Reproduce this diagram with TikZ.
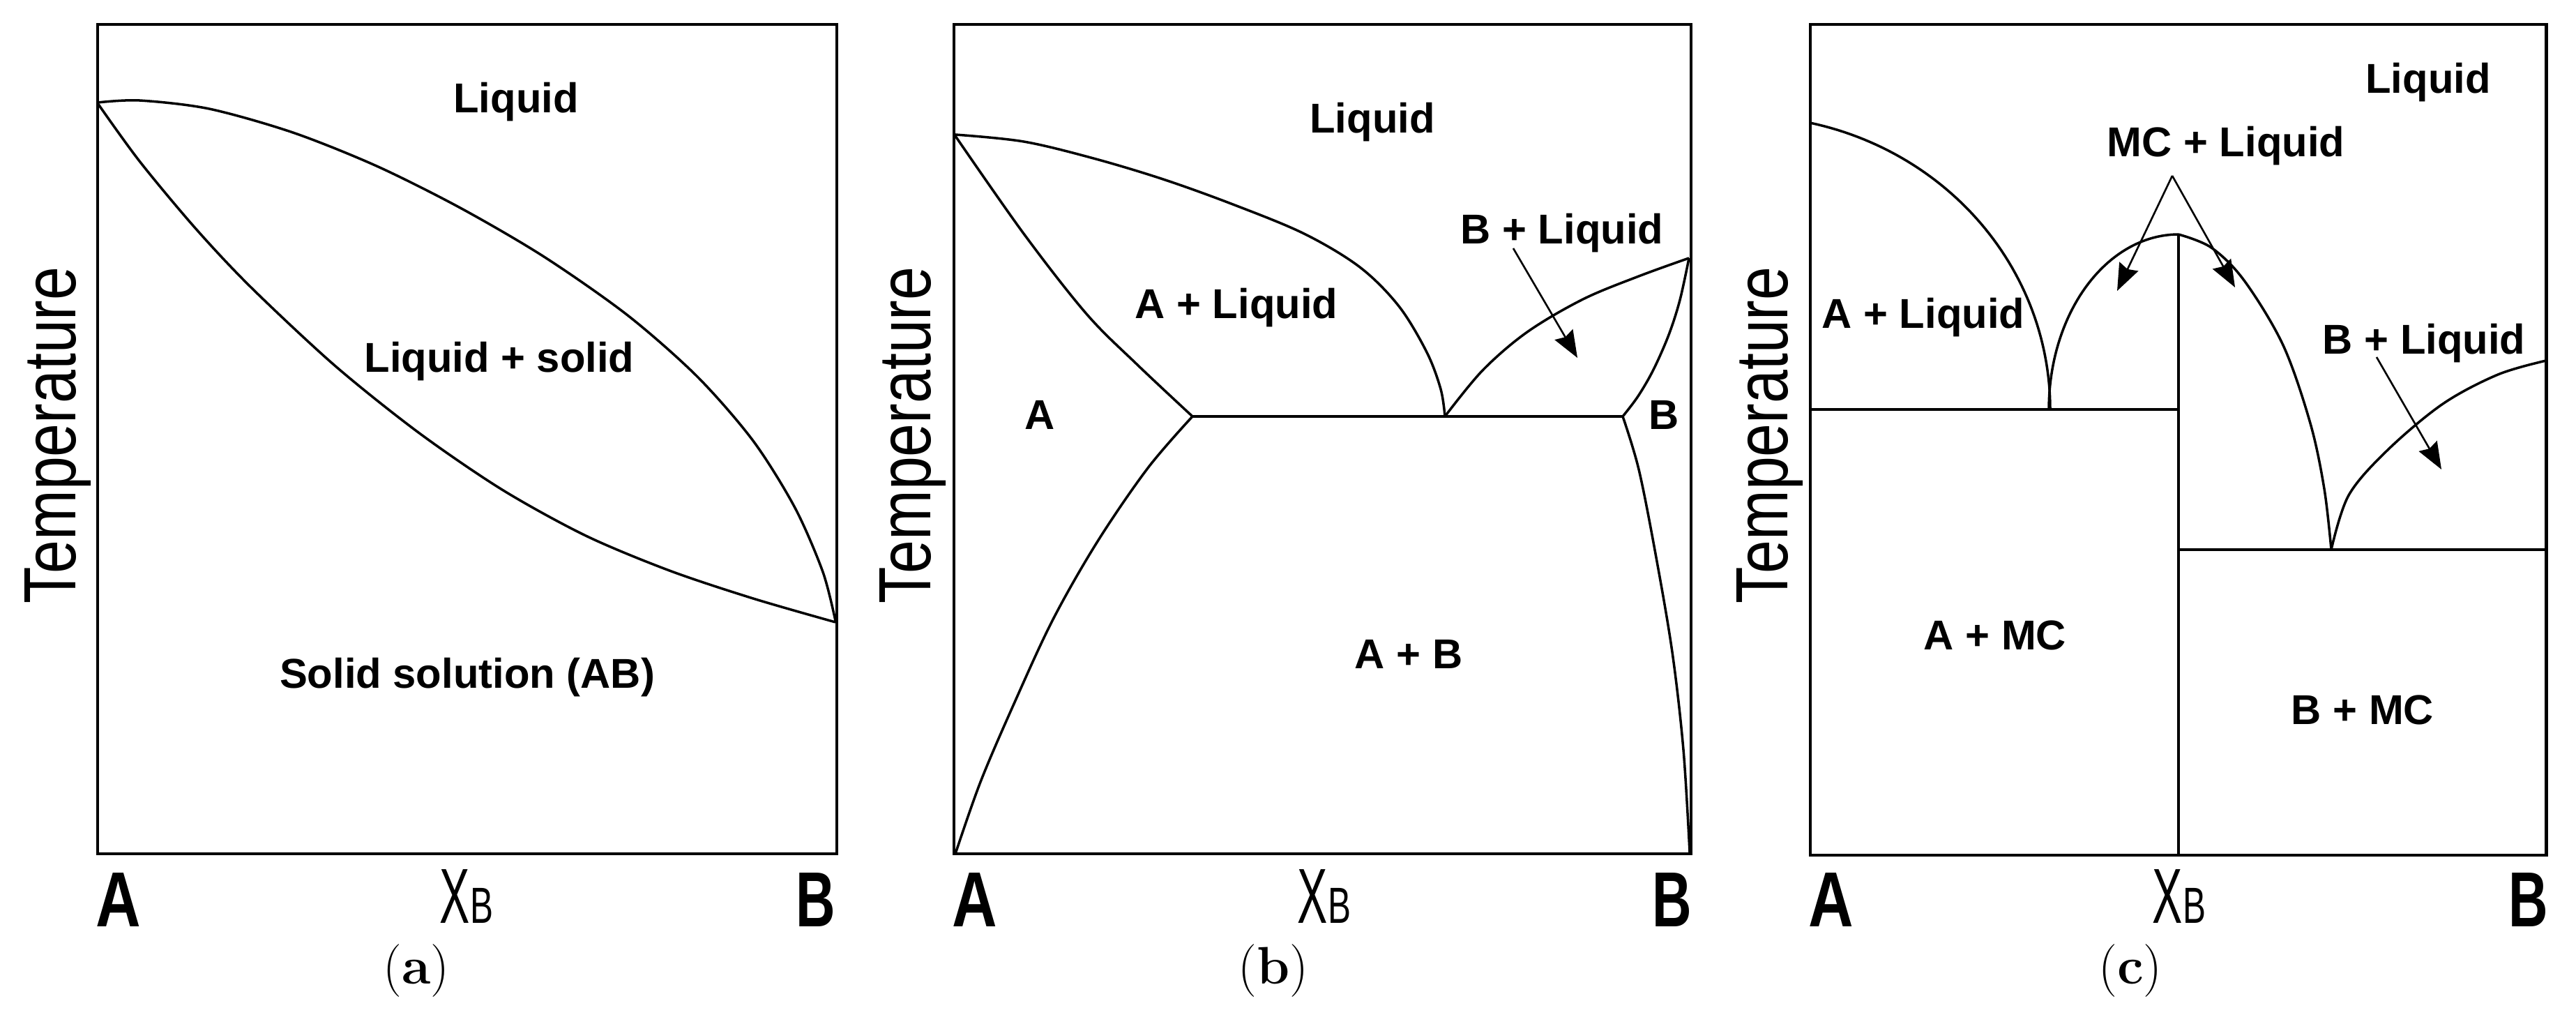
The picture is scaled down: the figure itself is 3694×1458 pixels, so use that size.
\documentclass[tikz,border=0pt]{standalone}
\usepackage{fontspec}
\usetikzlibrary{arrows.meta}
\newfontfamily\labfont{Liberation Sans}
\newfontfamily\tempfont{Liberation Sans}[FakeStretch=0.81]
\newfontfamily\axafont{Liberation Sans}[FakeStretch=0.8]
\newfontfamily\axbfont{Liberation Sans}[FakeStretch=0.7]
\newfontfamily\xfont{Liberation Sans}[FakeStretch=0.58]
\newfontfamily\xsubfont{Liberation Sans}[FakeStretch=0.68]
\newcommand{\xbtext}{X{\xsubfont\fontsize{20.7}{22}\selectfont B}}
\begin{document}
\begin{tikzpicture}[x=0.01cm,y=-0.01cm,
  boxline/.style={line width=1.4pt},
  phase/.style={line width=1.0pt},
  lbl/.style={inner sep=0pt,anchor=base,font=\labfont\bfseries\fontsize{17}{20}\selectfont},
  temp/.style={inner sep=0pt,anchor=base,rotate=90,font=\tempfont\fontsize{30.2}{32}\selectfont},
  axa/.style={inner sep=0pt,anchor=base,font=\axafont\bfseries\fontsize{31.8}{34}\selectfont},
  axb/.style={inner sep=0pt,anchor=base,font=\axbfont\bfseries\fontsize{31.8}{34}\selectfont},
  xbl/.style={inner sep=0pt,anchor=base,font=\xfont\fontsize{31.8}{34}\selectfont},
  captxt/.style={inner sep=0pt,anchor=base,font=\fontsize{21.5}{24}\selectfont},
  pointer/.style={line width=0.75pt,-{Stealth[length=11pt,width=8.5pt,inset=1.2pt]}},
]
\useasboundingbox (0,0) rectangle (3694,1458);

% ================= (a) =================
\draw[boxline] (140,35) rectangle (1200,1224);
\draw[phase] plot[smooth,tension=0.5] coordinates {(140,147) (200,144) (300,156) (420,190) (540,238) (660,298) (780,368) (900,452) (1000,540) (1080,632) (1140,728) (1180,820) (1198,890)};
\draw[phase] plot[smooth,tension=0.5] coordinates {(140,148) (200,231) (280,327) (360,412) (480,524) (600,620) (720,702) (840,768) (960,818) (1080,858) (1198,892)};
\node[lbl] (aliq) at (740,162) {Liquid};
\node[lbl] (aliqs) at (716,534) {Liquid + solid};
\node[lbl] (asol) at (670,986) {Solid solution (AB)};
\node[temp] (atemp) at (108,624) {Temperature};
\node[axa] (aA) at (170,1328) {A};
\node[xbl] (aX) at (669,1323) {\xbtext};
\node[axb] (aB) at (1170,1328) {B};
\node[captxt] (acap) at (597,1410) {(\textbf{a})};

% ================= (b) =================
\draw[boxline] (1368,35) rectangle (2425,1224);
\draw[phase] plot[smooth,tension=0.55] coordinates {(1370,193) (1468,203) (1568,227) (1668,257) (1768,293) (1870,335) (1950,383) (2006,439) (2046,505) (2066,558) (2072,597)};
\draw[phase] plot[smooth,tension=0.55] coordinates {(1370,195) (1468,335) (1558,450) (1630,522) (1710,597)};
\draw[phase] plot[smooth,tension=0.55] coordinates {(1710,597) (1646,671) (1574,776) (1510,888) (1454,1009) (1406,1121) (1370,1224)};
\draw[phase] (1710,597) -- (2327,597);
\draw[phase] plot[smooth,tension=0.55] coordinates {(2072,597) (2126,531) (2190,476) (2270,429) (2350,396) (2422,370)};
\draw[phase] plot[smooth,tension=0.55] coordinates {(2422,370) (2409,430) (2393,480) (2371,530) (2349,568) (2327,597)};
\draw[phase] plot[smooth,tension=0.55] coordinates {(2327,597) (2350,673) (2374,794) (2398,935) (2414,1075) (2423,1222)};
\node[lbl] (bliq) at (1968,191) {Liquid};
\node[lbl] (bbliq) at (2240,350) {B + Liquid};
\node[lbl] (baliq) at (1773,456) {A + Liquid};
\node[lbl] (bAs) at (1491,615) {A};
\node[lbl] (bBs) at (2386,615) {B};
\node[lbl] (bAB) at (2020,958) {A + B};
\coordinate (barS) at (2170,356);
\coordinate (barE) at (2262,513);
\draw[pointer] (barS) -- (barE);
\node[temp] (btemp) at (1334,624) {Temperature};
\node[axa] (bA) at (1398,1328) {A};
\node[xbl] (bX) at (1899,1323) {\xbtext};
\node[axb] (bB) at (2398,1328) {B};
\node[captxt] (bcap) at (1826,1410) {(\textbf{b})};

% ================= (c) =================
\draw[boxline] (2596,35) rectangle (3651,1226);
\draw[phase] plot[domain=77.4:0,samples=60,variable=\t] ({2500+440*cos(\t)},{587-421*sin(\t)});
\draw[phase] plot[domain=0:90,samples=50,variable=\t] ({3124-186*cos(\t)},{587-251*sin(\t)});
\draw[phase] plot[smooth,tension=0.55] coordinates {(3124,336) (3171,355) (3218,402) (3274,495) (3313,607) (3333,701) (3343,788)};
\draw[phase] plot[smooth,tension=0.55] coordinates {(3343,788) (3368,710) (3424,645) (3503,579) (3582,537) (3651,517)};
\draw[phase] (2596,587) -- (3124,587);
\draw[phase] (3124,336) -- (3124,1226);
\draw[phase] (3124,788) -- (3651,788);
\node[lbl] (cliq) at (3482,134) {Liquid};
\node[lbl] (cmcl) at (3192,225) {MC + Liquid};
\node[lbl] (caliq) at (2758,471) {A + Liquid};
\node[lbl] (cbliq) at (3476,508) {B + Liquid};
\node[lbl] (camc) at (2861,931) {A + MC};
\node[lbl] (cbmc) at (3388,1038) {B + MC};
\coordinate (capx) at (3115,252);
\coordinate (caL) at (3036,417);
\coordinate (caR) at (3205,412);
\draw[pointer] (capx) -- (caL);
\draw[pointer] (capx) -- (caR);
\coordinate (cbS) at (3408,512);
\coordinate (cbE) at (3501,673);
\draw[pointer] (cbS) -- (cbE);
\node[temp] (ctemp) at (2563,624) {Temperature};
\node[axa] (cA) at (2626,1328) {A};
\node[xbl] (cX) at (3125,1323) {\xbtext};
\node[axb] (cB) at (3626,1328) {B};
\node[captxt] (ccap) at (3055,1410) {(\textbf{c})};
\end{tikzpicture}
\end{document}
